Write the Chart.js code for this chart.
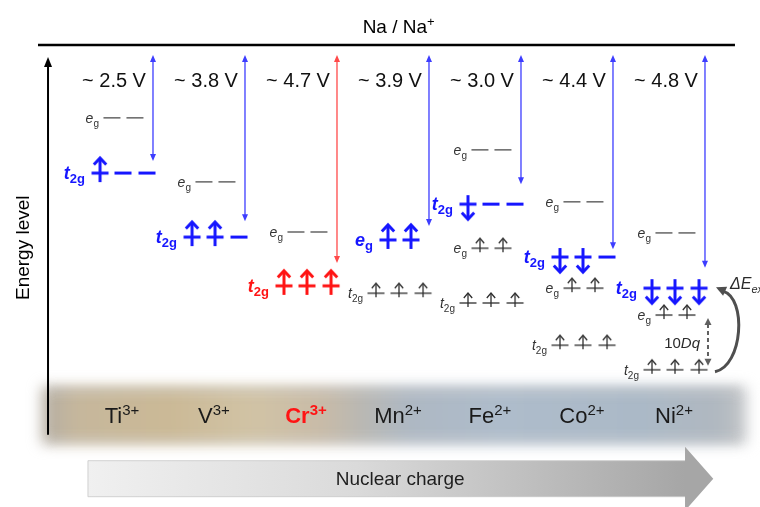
<!DOCTYPE html>
<html>
<head>
<meta charset="utf-8">
<title>3d levels of transition-metal ions vs Na/Na+</title>
<script src="https://cdn.jsdelivr.net/npm/chart.js@4.4.1/dist/chart.umd.min.js"></script>
<style>
  html, body { margin: 0; padding: 0; background: #ffffff; }
  #wrap { width: 760px; height: 507px; position: relative; }
</style>
</head>
<body>
<div id="wrap"><canvas id="c"></canvas></div>
<script>
// ---- data -------------------------------------------------------------
const ions       = ['Ti', 'V', 'Cr', 'Mn', 'Fe', 'Co', 'Ni'];
const ionCharge  = ['3+', '3+', '3+', '2+', '2+', '2+', '2+'];
const voltages   = [2.5, 3.8, 4.7, 3.9, 3.0, 4.4, 4.8];          // V vs Na/Na+
const highlightIon = 'Cr';

// one entry per orbital level: ion index, depth below Na/Na+ (V),
// orbital set, occupancy (u = spin up, d = spin down, - = empty), redox-active
const levelIon    = [0, 0, 1, 1, 2, 2, 3, 3, 4, 4, 4, 4, 5, 5, 5, 5, 6, 6, 6, 6];
const levelDepth  = [1.57, 2.76, 2.95, 4.14, 4.03, 5.19, 4.20, 5.35,
                     2.26, 3.43, 4.38, 5.56, 3.38, 4.57, 5.24, 6.47,
                     4.05, 5.24, 5.82, 7.00];
const levelOrb    = ['eg', 't2g', 'eg', 't2g', 'eg', 't2g', 'eg', 't2g',
                     'eg', 't2g', 'eg', 't2g', 'eg', 't2g', 'eg', 't2g',
                     'eg', 't2g', 'eg', 't2g'];
const levelOcc    = ['--', 'u--', '--', 'uu-', '--', 'uuu', 'uu', 'uuu',
                     '--', 'd--', 'uu', 'uuu', '--', 'dd-', 'uu', 'uuu',
                     '--', 'ddd', 'uu', 'uuu'];
const levelActive = [0, 1, 0, 1, 0, 1, 1, 0, 0, 1, 0, 0, 0, 1, 0, 0, 0, 1, 0, 0];

// Ni2+ annotations: crystal-field splitting and exchange energy
const splitLevels    = [18, 19];   // Ni eg -> Ni t2g (core)
const exchangeLevels = [19, 17];   // Ni t2g (core) -> Ni t2g (active)

// ---- style ------------------------------------------------------------
const FONT = '"Liberation Sans", Arial, Helvetica, sans-serif';
const BLUE = '#1616ff';
const RED = '#ff1414';
const CORE = '#2e2e2e';
const slotOffset = { eg: [-0.446, -0.196], t2g: [-0.576, -0.326, -0.065] };

function ionColor(i) { return ions[i] === highlightIon ? RED : BLUE; }

// electron glyphs (arrow through an orbital bar), used as point styles
function glyph(color, bold, spin) {
  const c = document.createElement('canvas');
  c.width = 28; c.height = 42;
  const g = c.getContext('2d');
  const cx = 14, cy = 21;
  const lw = bold ? 3 : 1.3;
  const half = 8.5;
  const head = bold ? 15 : 10, tail = bold ? 9 : 4;
  const hw = bold ? 6.2 : 4.2, hh = bold ? 6.5 : 5;
  const s = spin === 'u' ? -1 : 1;
  const tip = cy + s * head, end = cy - s * tail;
  g.strokeStyle = color; g.lineWidth = lw; g.lineCap = 'butt'; g.lineJoin = 'miter';
  g.beginPath(); g.moveTo(cx - half, cy); g.lineTo(cx + half, cy); g.stroke();
  g.beginPath(); g.moveTo(cx, end); g.lineTo(cx, tip - s * (bold ? 1 : 0.5)); g.stroke();
  g.beginPath();
  g.moveTo(cx - hw, tip - s * hh); g.lineTo(cx, tip); g.lineTo(cx + hw, tip - s * hh);
  g.stroke();
  return c;
}
const glyphs = {
  blue: { u: glyph(BLUE, true, 'u'), d: glyph(BLUE, true, 'd') },
  red:  { u: glyph(RED, true, 'u'),  d: glyph(RED, true, 'd') },
  core: { u: glyph(CORE, false, 'u'), d: glyph(CORE, false, 'd') }
};

// ---- datasets built from the level tables ----------------------------
const groups = { blue: { e: [], o: [] }, red: { e: [], o: [] }, core: { e: [], o: [] } };
levelIon.forEach((ion, k) => {
  const key = levelActive[k] ? (ions[ion] === highlightIon ? 'red' : 'blue') : 'core';
  const offs = slotOffset[levelOrb[k]];
  [...levelOcc[k]].forEach((ch, j) => {
    const pt = { x: ion + offs[j], y: levelDepth[k], spin: ch };
    if (ch === '-') groups[key].o.push(pt); else groups[key].e.push(pt);
  });
});

const datasets = [];
const colorOf = { blue: BLUE, red: RED, core: '#5a5a5a' };
Object.keys(groups).forEach(key => {
  datasets.push({
    label: key + ' empty',
    data: groups[key].o,
    pointStyle: 'line',
    pointRadius: 8.5,
    borderColor: colorOf[key],
    borderWidth: key === 'core' ? 1.4 : 3,
    showLine: false
  });
  datasets.push({
    label: key + ' electrons',
    data: groups[key].e,
    pointStyle: ctx => (ctx.raw ? glyphs[key][ctx.raw.spin] : 'circle'),
    pointRadius: 10,
    showLine: false
  });
});

// ---- text helpers -------------------------------------------------------
function rich(ctx, parts, x, y, align) {
  let w = 0;
  parts.forEach(p => { ctx.font = p[1]; w += ctx.measureText(p[0]).width; });
  let cx = align === 'right' ? x - w : align === 'center' ? x - w / 2 : x;
  ctx.textAlign = 'left';
  parts.forEach(p => {
    ctx.font = p[1];
    ctx.fillText(p[0], cx, y + (p[2] || 0));
    cx += ctx.measureText(p[0]).width;
  });
}

function arrowHead(ctx, x, y, ang, len, wid) {
  ctx.save();
  ctx.translate(x, y); ctx.rotate(ang);
  ctx.beginPath();
  ctx.moveTo(0, 0); ctx.lineTo(-len, wid / 2); ctx.lineTo(-len, -wid / 2);
  ctx.closePath(); ctx.fill();
  ctx.restore();
}

// ---- diagram decorations drawn around the datasets --------------------
const diagram = {
  id: 'diagram',
  beforeDatasetsDraw(chart) {
    const ctx = chart.ctx;
    const X = v => chart.scales.x.getPixelForValue(v);
    const Y = v => chart.scales.y.getPixelForValue(v);

    // ion band (soft-edged)
    const bx0 = X(-1.21), bx1 = X(6.45);
    const by0 = Y(7.3) + 3, by1 = by0 + 57;
    ctx.save();
    ctx.filter = 'blur(7px)';
    const g = ctx.createLinearGradient(bx0, 0, bx1, 0);
    g.addColorStop(0.00, '#b4aea4');
    g.addColorStop(0.05, '#c6b79c');
    g.addColorStop(0.18, '#cbb996');
    g.addColorStop(0.30, '#d1c3a5');
    g.addColorStop(0.40, '#c8bba8');
    g.addColorStop(0.45, '#bab8b2');
    g.addColorStop(0.52, '#aeb8c3');
    g.addColorStop(0.65, '#aebccb');
    g.addColorStop(0.85, '#abb9c7');
    g.addColorStop(0.96, '#b0b8c0');
    g.addColorStop(1.00, '#c4c6c8');
    ctx.fillStyle = g;
    ctx.fillRect(bx0, by0, bx1 - bx0, by1 - by0);
    ctx.restore();
    // shaded rim along top and bottom
    ctx.save();
    ctx.filter = 'blur(4px)';
    const v = ctx.createLinearGradient(0, by0, 0, by1);
    v.addColorStop(0, 'rgba(110,110,110,0.22)');
    v.addColorStop(0.25, 'rgba(255,255,255,0.0)');
    v.addColorStop(0.75, 'rgba(255,255,255,0.0)');
    v.addColorStop(1, 'rgba(110,110,110,0.18)');
    ctx.fillStyle = v;
    ctx.fillRect(bx0 + 6, by0, bx1 - bx0 - 12, by1 - by0);
    ctx.restore();

    // nuclear-charge arrow
    const ax0 = X(-0.707), ax1 = X(5.783), tipX = X(6.09);
    const acy = by1 + 35, bh = 18, hh = 32;
    const ag = ctx.createLinearGradient(ax0, 0, ax1, 0);
    ag.addColorStop(0, '#f0f0f0');
    ag.addColorStop(0.45, '#dadada');
    ag.addColorStop(1, '#a6a6a6');
    ctx.fillStyle = ag;
    ctx.beginPath();
    ctx.moveTo(ax0, acy - bh); ctx.lineTo(ax1, acy - bh); ctx.lineTo(ax1, acy - hh);
    ctx.lineTo(tipX, acy); ctx.lineTo(ax1, acy + hh); ctx.lineTo(ax1, acy + bh);
    ctx.lineTo(ax0, acy + bh); ctx.closePath(); ctx.fill();
    ctx.strokeStyle = 'rgba(200,200,200,0.8)'; ctx.lineWidth = 1;
    ctx.beginPath(); ctx.moveTo(ax0, acy - bh); ctx.lineTo(ax1, acy - bh);
    ctx.moveTo(ax0, acy + bh); ctx.lineTo(ax1, acy + bh); ctx.moveTo(ax0, acy - bh); ctx.lineTo(ax0, acy + bh);
    ctx.stroke();
    ctx.fillStyle = '#1e1e1e';
    ctx.font = '19px ' + FONT; ctx.textAlign = 'center'; ctx.textBaseline = 'middle';
    ctx.fillText('Nuclear charge', X(2.686), acy + 1);
    ctx.textBaseline = 'alphabetic';

    // ion names
    ions.forEach((name, i) => {
      const hi = name === highlightIon;
      ctx.fillStyle = hi ? RED : '#1a1a1a';
      const w = hi ? 'bold ' : '';
      rich(ctx, [[name, w + '22px ' + FONT, 0], [ionCharge[i], w + '15px ' + FONT, -8]],
           X(i) - 31, by0 + 36, 'center');
    });
  },

  afterDatasetsDraw(chart) {
    const ctx = chart.ctx;
    const X = v => chart.scales.x.getPixelForValue(v);
    const Y = v => chart.scales.y.getPixelForValue(v);
    const y0 = Y(0);

    // Na/Na+ reference line
    ctx.save();
    ctx.strokeStyle = '#000'; ctx.lineWidth = 2.5;
    ctx.beginPath(); ctx.moveTo(X(-1.25), y0); ctx.lineTo(X(6.326), y0); ctx.stroke();
    ctx.fillStyle = '#000';
    rich(ctx, [['Na / Na', '19px ' + FONT, 0], ['+', '13px ' + FONT, -7]], X(2.67), y0 - 12, 'center');

    // energy axis
    const axX = X(-1.141);
    ctx.lineWidth = 2;
    ctx.beginPath(); ctx.moveTo(axX, Y(8.4)); ctx.lineTo(axX, y0 + 18); ctx.stroke();
    arrowHead(ctx, axX, y0 + 12, -Math.PI / 2, 10, 8);
    ctx.save();
    ctx.translate(X(-1.402), Y(4.37));
    ctx.rotate(-Math.PI / 2);
    ctx.font = '19px ' + FONT; ctx.textAlign = 'center'; ctx.textBaseline = 'middle';
    ctx.fillText('Energy level', 0, 0);
    ctx.restore();

    // voltage arrows and labels
    voltages.forEach((v, i) => {
      const col = ions[i] === highlightIon ? '#ff4a4a' : '#3d3dff';
      const x = X(i), yt = y0 + 10, yb = Y(v);
      ctx.strokeStyle = col; ctx.fillStyle = col; ctx.lineWidth = 1.3;
      ctx.beginPath(); ctx.moveTo(x, yt + 5); ctx.lineTo(x, yb - 5); ctx.stroke();
      arrowHead(ctx, x, yt, -Math.PI / 2, 7, 6);
      arrowHead(ctx, x, yb, Math.PI / 2, 7, 6);
      ctx.fillStyle = '#111';
      ctx.font = '20px ' + FONT; ctx.textAlign = 'center';
      ctx.fillText('~ ' + v.toFixed(1) + ' V', x - 39, y0 + 42);
    });

    // orbital labels
    levelIon.forEach((ion, k) => {
      const first = X(ion + slotOffset[levelOrb[k]][0]) - 15;
      const y = Y(levelDepth[k]);
      const letter = levelOrb[k][0], sub = levelOrb[k].slice(1);
      if (levelActive[k]) {
        ctx.fillStyle = ionColor(ion);
        rich(ctx, [[letter, 'italic bold 18px ' + FONT, 0], [sub, 'bold 13px ' + FONT, 4]], first, y + 6, 'right');
      } else {
        ctx.fillStyle = '#333';
        rich(ctx, [[letter, 'italic 14px ' + FONT, 0], [sub, '10px ' + FONT, 4]], first + 2, y + 5, 'right');
      }
    });

    // 10Dq splitting (dashed double arrow)
    const sx = X(6) + 3;
    const sTop = Y(levelDepth[splitLevels[0]]) + 3, sBot = Y(levelDepth[splitLevels[1]]) - 4;
    ctx.strokeStyle = '#606060'; ctx.fillStyle = '#606060'; ctx.lineWidth = 2;
    ctx.setLineDash([4, 3]);
    ctx.beginPath(); ctx.moveTo(sx, sTop + 6); ctx.lineTo(sx, sBot - 6); ctx.stroke();
    ctx.setLineDash([]);
    arrowHead(ctx, sx, sTop, -Math.PI / 2, 7, 7);
    arrowHead(ctx, sx, sBot, Math.PI / 2, 7, 7);
    ctx.fillStyle = '#2a2a2a';
    rich(ctx, [['10', '15px ' + FONT, 0], ['Dq', 'italic 15px ' + FONT, 0]], X(6) - 5, (sTop + sBot) / 2 + 6, 'right');

    // exchange energy (curved arrow)
    const eBot = Y(levelDepth[exchangeLevels[0]]) + 2;
    const eTop = Y(levelDepth[exchangeLevels[1]]);
    const ex0 = X(6) + 10;
    ctx.strokeStyle = '#4f4f4f'; ctx.fillStyle = '#4f4f4f'; ctx.lineWidth = 3;
    ctx.beginPath();
    ctx.moveTo(ex0, eBot);
    ctx.bezierCurveTo(ex0 + 28, eBot - 6, ex0 + 32, eTop + 10, ex0 + 8, eTop + 3);
    ctx.stroke();
    arrowHead(ctx, ex0 + 1, eTop - 1, Math.atan2(-4, -9), 10, 10);
    ctx.fillStyle = '#2a2a2a';
    rich(ctx, [['ΔE', 'italic 16px ' + FONT, 0], ['ex', 'italic 11px ' + FONT, 4]], X(6) + 25, eTop + 1, 'left');
    ctx.restore();
  }
};

new Chart(document.getElementById('c'), {
  type: 'scatter',
  data: { datasets },
  options: {
    responsive: true,
    maintainAspectRatio: false,
    animation: false,
    events: [],
    layout: { padding: 0, autoPadding: false },
    plugins: { legend: { display: false }, tooltip: { enabled: false } },
    scales: {
      x: { type: 'linear', display: false, min: -1.663, max: 6.598 },
      y: { type: 'linear', display: false, reverse: true, min: -0.970, max: 9.957 }
    }
  },
  plugins: [diagram]
});
</script>
</body>
</html>
